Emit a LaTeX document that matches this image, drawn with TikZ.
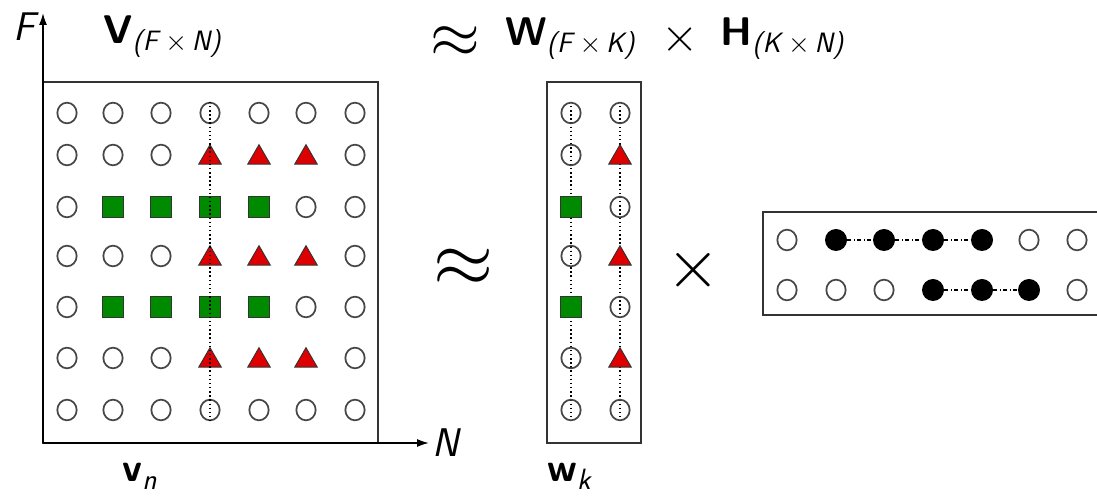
\documentclass[tikz,border=0pt]{standalone}
\usepackage{fix-cm}
\usepackage{amsmath}
\usetikzlibrary{shapes.geometric,arrows.meta,backgrounds}

\definecolor{trired}{RGB}{222,0,0}
\definecolor{sqgreen}{RGB}{0,138,0}
\newcommand{\mtx}[1]{\textsf{\bfseries #1}}
\newcommand{\isf}[1]{\textsf{\itshape #1}}
% lowered subscript set as text, with room round the times sign
\newcommand{\dimsub}[2]{\raisebox{-5pt}{\fontsize{21}{24}\selectfont\isf{(#1}\,$\times$\,\isf{#2)}}}
\newcommand{\idxsub}[1]{\raisebox{-6pt}{\fontsize{22}{24}\selectfont\isf{#1}}}

\tikzset{
  cir/.style={ellipse,draw=black!72,line width=1.3pt,minimum width=14.5pt,minimum height=15.5pt,inner sep=0pt},
  tri/.style={regular polygon,regular polygon sides=3,draw=black!80,fill=trired,line width=0.7pt,minimum size=19.5pt,inner sep=0pt,yshift=-2pt},
  sqr/.style={rectangle,draw=black!80,fill=sqgreen,line width=0.7pt,minimum size=15.5pt,inner sep=0pt},
  blob/.style={circle,fill=black,minimum size=16.5pt,inner sep=0pt},
  frame/.style={draw=black!80,line width=1.2pt},
  vline/.style={dotted,line width=1.1pt},
  hline/.style={dash dot,line width=0.9pt},
  axis/.style={line width=1.2pt,-{Latex[length=9pt,width=6pt]}},
  big/.style={font=\fontsize{30}{34}\selectfont}
}

\begin{document}
\begin{tikzpicture}[x=0.75pt,y=0.75pt,yscale=-1,xscale=1]
\useasboundingbox (0,0) rectangle (1097,498);

% V matrix with its axes
\coordinate (orig) at (43,443);
\coordinate (ftip) at (43,13);
\coordinate (ntip) at (429,443);
\draw[frame] (43,82) rectangle (378,443);
\draw[axis] (orig) -- (ftip);
\draw[axis] (orig) -- (ntip);
\node[big,anchor=base west] (flab) at (9,41) {\isf{F}};
\node[big,anchor=base west] (nlab) at (428,457) {\isf{N}};

\foreach \r/\y in {1/113,7/410}
  \foreach \k/\x in {1/67,2/113,3/161,4/210,5/259,6/306,7/355}
    \node[cir] (v-\r-\k) at (\x,\y) {};
\foreach \r/\y in {2/155,4/256,6/358} {
  \foreach \k/\x in {1/67,2/113,3/161,7/355}
    \node[cir] (v-\r-\k) at (\x,\y) {};
  \foreach \k/\x in {4/210,5/259,6/306}
    \node[tri] (v-\r-\k) at (\x,\y) {};
}
\foreach \r/\y in {3/207,5/307} {
  \foreach \k/\x in {1/67,6/306,7/355}
    \node[cir] (v-\r-\k) at (\x,\y) {};
  \foreach \k/\x in {2/113,3/161,4/210,5/259}
    \node[sqr] (v-\r-\k) at (\x,\y) {};
}
\draw[vline] (v-1-4.north) -- (v-7-4.south);

% W matrix
\draw[frame] (547,82) rectangle (641,443);
\foreach \r/\y in {1/113,2/155,4/256,6/358,7/410}
  \node[cir] (w-\r-1) at (571,\y) {};
\foreach \r/\y in {3/207,5/307}
  \node[sqr] (w-\r-1) at (571,\y) {};
\foreach \r/\y in {1/113,3/207,5/307,7/410}
  \node[cir] (w-\r-2) at (620,\y) {};
\foreach \r/\y in {2/155,4/256,6/358}
  \node[tri] (w-\r-2) at (620,\y) {};
\begin{scope}[on background layer]
  \draw[vline] (w-1-1.north) -- (w-7-1.south);
  \draw[vline] (w-1-2.north) -- (w-7-2.south);
\end{scope}

% H matrix
\draw[frame] (1100,212) -- (763,212) -- (763,315) -- (1100,315);
\foreach \k/\x in {1/787,6/1029,7/1077}
  \node[cir] (h-1-\k) at (\x,240) {};
\foreach \k/\x in {2/836,3/884,4/933,5/982}
  \node[blob] (h-1-\k) at (\x,240) {};
\foreach \k/\x in {1/787,2/836,3/884,7/1077}
  \node[cir] (h-2-\k) at (\x,290) {};
\foreach \k/\x in {4/933,5/982,6/1029}
  \node[blob] (h-2-\k) at (\x,290) {};
\draw[hline] (h-1-2) -- (h-1-3);
\draw[hline] (h-1-3) -- (h-1-4);
\draw[hline] (h-1-4) -- (h-1-5);
\draw[hline] (h-2-4) -- (h-2-5);
\draw[hline] (h-2-5) -- (h-2-6);

% operators between the matrices
\node[font=\fontsize{58}{60}\selectfont] (approxmid) at (464,268) {$\approx$};
\node[font=\fontsize{52}{56}\selectfont] (timesmid) at (693,270) {$\times$};

% titles
\node[big,anchor=base west,inner sep=0pt] (vtitle) at (103,44) {\mtx{V}\dimsub{F}{N}};
\node[font=\fontsize{48}{52}\selectfont,anchor=base west,inner sep=0pt] (approxtop) at (430,58) {$\approx$};
\node[big,anchor=base west,inner sep=0pt] (wtitle) at (505,46) {\mtx{W}\dimsub{F}{K}};
\node[font=\fontsize{36}{40}\selectfont,inner sep=0pt] (timestop) at (680,40) {$\times$};
\node[big,anchor=base east,inner sep=0pt] (htitle) at (845,46) {\mtx{H}\dimsub{K}{N}};

% column labels
\node[big,anchor=base west,inner sep=0pt] (vcol) at (122,482) {\mtx{v}\idxsub{n}};
\node[big,anchor=base west,inner sep=0pt] (wcol) at (547,482) {\mtx{w}\idxsub{k}};

\end{tikzpicture}
\end{document}
